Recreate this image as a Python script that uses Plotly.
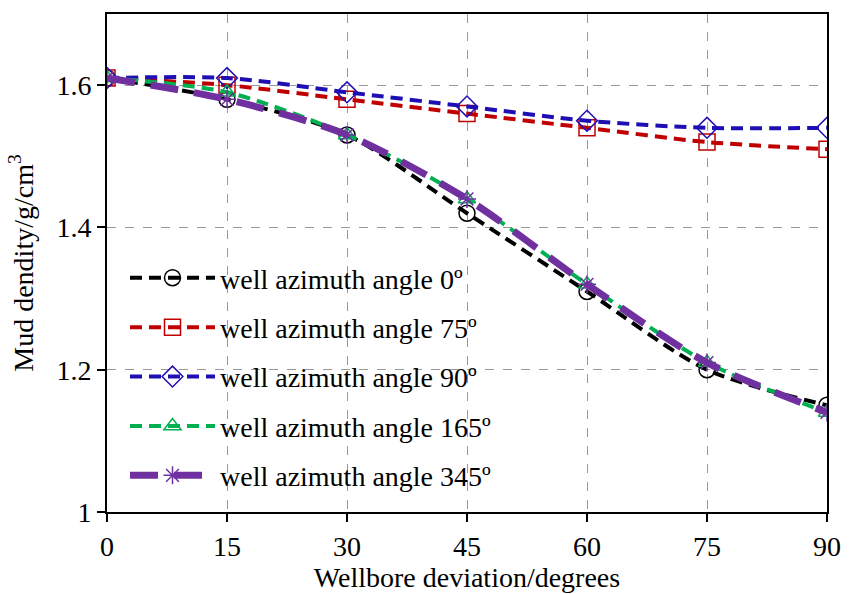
import plotly.graph_objects as go

deviation = [0, 15, 30, 45, 60, 75, 90]
az0 = [1.61, 1.58, 1.53, 1.42, 1.31, 1.20, 1.15]
az75 = [1.61, 1.60, 1.58, 1.56, 1.54, 1.52, 1.51]
az90 = [1.61, 1.61, 1.59, 1.57, 1.55, 1.54, 1.54]
az165 = [1.61, 1.59, 1.53, 1.44, 1.32, 1.21, 1.14]
az345 = [1.61, 1.58, 1.53, 1.44, 1.32, 1.21, 1.14]
names = ["well azimuth angle 0º", "well azimuth angle 75º", "well azimuth angle 90º",
         "well azimuth angle 165º", "well azimuth angle 345º"]

series = [
    (az0, "#000000", "12px,7px", 4, "circle-open", 16),
    (az75, "#c00000", "12px,7px", 4, "square-open", 16),
    (az90, "#1e0fb4", "12px,7px", 4, "diamond-open", 16),
    (az165, "#00b050", "12px,7px", 4, "triangle-up-open", 15),
    (az345, "#7030a0", "28px,16px", 7, "asterisk-open", 15),
]

fig = go.Figure()
for i, (vals, col, dash, w, sym, sz) in enumerate(series):
    fig.add_trace(go.Scatter(
        x=deviation, y=vals, name=names[i], mode="lines+markers",
        legendgroup=str(i),
        line=dict(color=col, width=w, dash=dash, shape="spline", smoothing=0.8),
        marker=dict(symbol=sym, size=sz, color=col, line=dict(color=col, width=1.5)),
    ))

font = "Liberation Serif"
fs = 28
fig.update_layout(
    width=856, height=594,
    margin=dict(l=107, r=29, t=14, b=82),
    plot_bgcolor="white", paper_bgcolor="white",
    font=dict(family=font, size=fs, color="black"),
    showlegend=True,
    legend=dict(x=0.025, y=0.52, xanchor="left", yanchor="top",
                bgcolor="rgba(0,0,0,0)", font=dict(family=font, size=fs),
                itemwidth=85, tracegroupgap=10),
    xaxis=dict(range=[0, 90], tickvals=deviation, ticks="outside", ticklen=8,
               tickwidth=1.5, tickcolor="black",
               tickfont=dict(family=font, size=fs),
               showline=True, linecolor="black", linewidth=2, mirror=True,
               showgrid=True, gridcolor="#999999", griddash="dash", gridwidth=1,
               zeroline=False,
               title=dict(text="Wellbore deviation/degrees", standoff=2,
                          font=dict(family=font, size=fs))),
    yaxis=dict(range=[1, 1.7], tickvals=[1, 1.2, 1.4, 1.6],
               ticktext=["1", "1.2", "1.4", "1.6"],
               tickfont=dict(family=font, size=fs),
               ticks="outside", ticklen=8, tickwidth=1.5, tickcolor="black",
               showline=True, linecolor="black", linewidth=2, mirror=True,
               showgrid=True, gridcolor="#999999", griddash="dash", gridwidth=1,
               zeroline=False,
               title=dict(text="Mud dendity/g/cm<sup>3</sup>", standoff=15,
                          font=dict(family=font, size=fs))),
)
fig.write_html("out.html")
